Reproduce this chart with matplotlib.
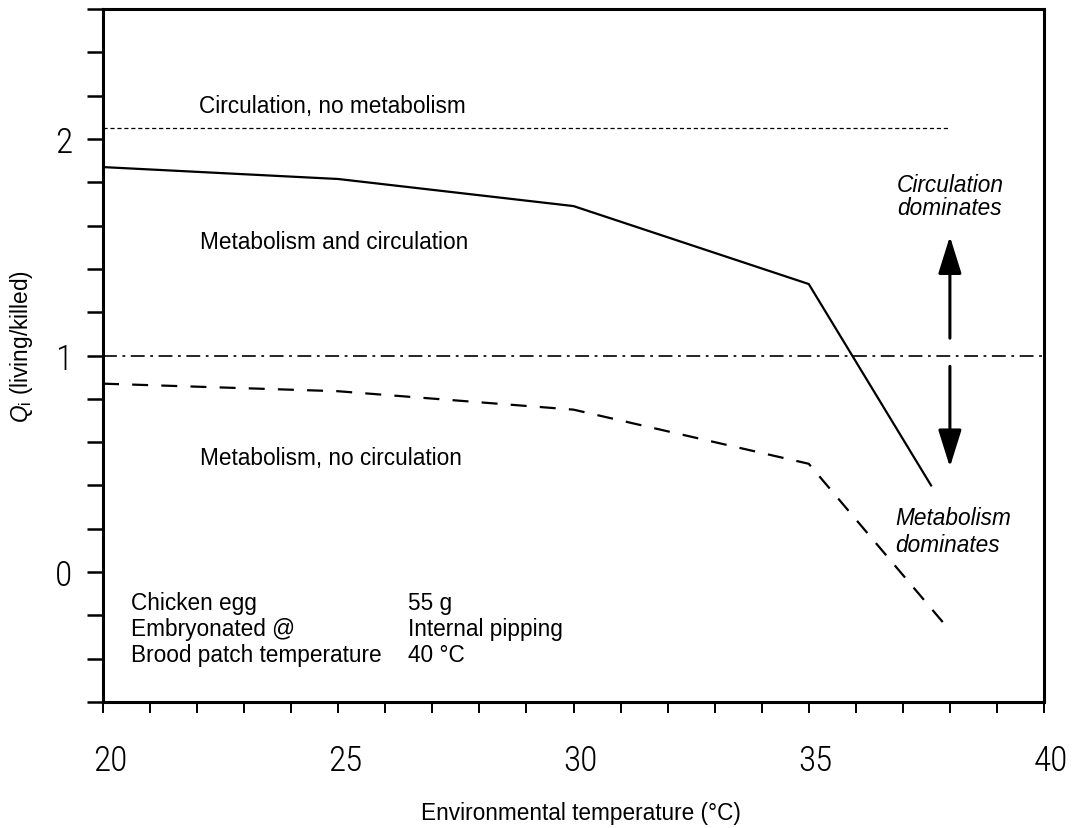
import matplotlib
matplotlib.use("Agg")
import matplotlib.pyplot as plt
import matplotlib.transforms as mtransforms
from matplotlib import font_manager
from matplotlib.ticker import MultipleLocator, FixedLocator

# ---------------- data ----------------
temp_metab_circ = [20, 25, 30, 35, 37.6]
q_metab_circ = [1.87, 1.815, 1.69, 1.33, 0.40]

temp_metab_nocirc = [20, 25, 30, 35, 38]
q_metab_nocirc = [0.87, 0.835, 0.75, 0.50, -0.27]

temp_circ_nometab = [20, 38]
q_circ_nometab = [2.05, 2.05]

temp_unity = [20, 40]
q_unity = [1.0, 1.0]

arrow_x = 38
arrow_up = (1.08, 1.55)
arrow_down = (0.95, 0.485)

x_major = [20, 25, 30, 35, 40]
y_major = [0, 1, 2]

info_labels = ["Chicken egg", "Embryonated @", "Brood patch temperature"]
info_values = ["55 g", "Internal pipping", "40 \u00b0C"]

# ---------------- style ----------------
plt.rcParams['font.family'] = ['Liberation Sans', 'DejaVu Sans']
plt.rcParams['mathtext.fontset'] = 'custom'
plt.rcParams['mathtext.rm'] = 'Liberation Sans'
plt.rcParams['mathtext.it'] = 'Liberation Sans:italic'
plt.rcParams['lines.scale_dashes'] = False

# pick a condensed face for the tick numbers if one is installed
_names = {f.name for f in font_manager.fontManager.ttflist}
_tick_family = None
_tick_stretch = 'normal'
for cand in ['Liberation Sans Narrow', 'DejaVu Sans Condensed', 'Roboto Condensed',
             'Open Sans Condensed', 'Noto Sans Condensed']:
    if cand in _names:
        _tick_family = cand
        break
if _tick_family is None:
    cond = [f for f in font_manager.fontManager.ttflist
            if f.stretch in ('condensed', 'semi-condensed', 'extra-condensed', 'narrow')]
    if cond:
        _tick_family = cond[0].name
        _tick_stretch = cond[0].stretch
    else:
        _tick_family = 'Roboto' if 'Roboto' in _names else 'DejaVu Sans'

fig = plt.figure(figsize=(10.72, 8.29), dpi=100)
ax = fig.add_axes([103/1072, 1 - 703/829, (1044-103)/1072, (703-10)/829])

ax.set_xlim(20, 40)
ax.set_ylim(-0.6, 2.6)

for s in ax.spines.values():
    s.set_linewidth(2.2)

# lines
ax.plot(temp_metab_circ, q_metab_circ, color='black', lw=1.6, solid_joinstyle='miter')
ax.plot(temp_metab_nocirc, q_metab_nocirc, color='black', lw=1.6, dashes=(11.5, 9.5))
ax.plot(temp_circ_nometab, q_circ_nometab, color='black', lw=0.9, dashes=(3.0, 2.0))
ax.plot(temp_unity, q_unity, color='black', lw=1.2, dashes=(10, 4, 2, 4), clip_on=False)

# arrows
for (y0, y1) in (arrow_up, arrow_down):
    ax.annotate('', xy=(arrow_x, y1), xytext=(arrow_x, y0),
                arrowprops=dict(arrowstyle='-|>,head_length=23,head_width=7.2',
                                mutation_scale=1, lw=2.2, color='black',
                                shrinkA=0, shrinkB=0))

# ticks
ax.xaxis.set_major_locator(FixedLocator(x_major))
ax.xaxis.set_minor_locator(MultipleLocator(1))
ax.yaxis.set_major_locator(FixedLocator(y_major))
ax.yaxis.set_minor_locator(MultipleLocator(0.2))
ax.tick_params(axis='x', which='both', direction='out', length=8, width=1.4,
               top=False, pad=22)
ax.tick_params(axis='y', which='both', direction='out', length=11.5, width=1.8,
               right=False, pad=10.5)
tick_font = dict(fontsize=25.5, family=[_tick_family, 'DejaVu Sans'],
                 fontstretch=_tick_stretch, fontweight='light')
ax.set_xticklabels([str(v) for v in x_major], **tick_font)
ax.set_yticklabels([str(v) for v in y_major], **tick_font)
offset = mtransforms.ScaledTranslation(7/100, 0, fig.dpi_scale_trans)
for lab in ax.get_xticklabels():
    lab.set_transform(lab.get_transform() + offset)

# annotations
fs = 16.3
ax.text(22.04, 2.124, "Circulation, no metabolism", fontsize=fs, va='baseline')
ax.text(22.06, 1.496, "Metabolism and circulation", fontsize=fs, va='baseline')
ax.text(22.06, 0.499, "Metabolism, no circulation", fontsize=fs, va='baseline')

info_y = [-0.171, -0.291, -0.410]
for lab, val, yy in zip(info_labels, info_values, info_y):
    ax.text(20.6, yy, lab, fontsize=fs, va='baseline')
    ax.text(26.48, yy, val, fontsize=fs, va='baseline')

ax.text(36.875, 1.759, "Circulation", fontsize=fs, style='italic', va='baseline')
ax.text(36.875, 1.653, "dominates", fontsize=fs, style='italic', va='baseline')
ax.text(36.83, 0.222, "Metabolism", fontsize=fs, style='italic', va='baseline')
ax.text(36.83, 0.097, "dominates", fontsize=fs, style='italic', va='baseline')

# axis labels
fig.text(581/1072, 1 - 814/829, "Environmental temperature (\u00b0C)", fontsize=fs,
         ha='center', va='center')
fig.text(22/1072, 1 - 346/829, r"$Q_{\rm i}$ (living/killed)", fontsize=fs,
         ha='center', va='center', rotation=90)

fig.savefig("out.png", dpi=100, facecolor='white')
